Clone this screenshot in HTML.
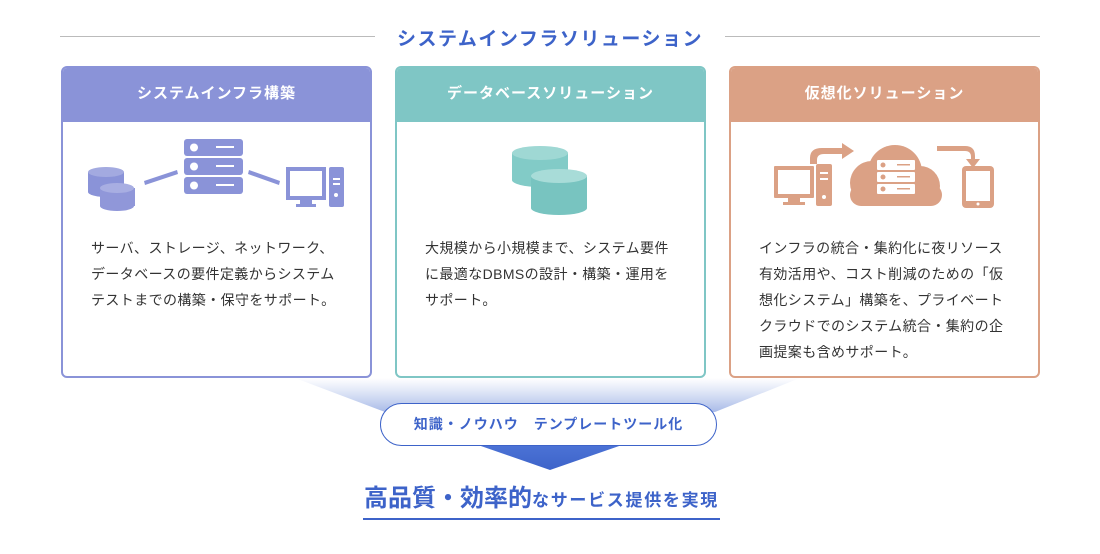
<!DOCTYPE html>
<html><head><meta charset="utf-8"><style>
*{margin:0;padding:0;box-sizing:border-box}
body{width:1100px;height:554px;background:#fff;position:relative;overflow:hidden;font-family:"Liberation Sans","Noto Sans CJK JP",sans-serif;color:#333}
.abs{position:absolute}
.card{position:absolute;top:66px;width:311px;height:312px;border:2px solid;border-radius:6px;background:#fff;overflow:hidden}
.card .h{height:54px;color:#fff;font-weight:bold;font-size:15px;text-align:center;line-height:52px;letter-spacing:1px}
.card p{position:absolute;left:28px;top:167px;font-size:14px;line-height:26px;letter-spacing:0.4px;color:#333;white-space:nowrap}
</style></head><body>
<div class="abs" style="left:60px;top:36px;width:315px;height:1px;background:#bbb"></div>
<div class="abs" style="left:725px;top:36px;width:315px;height:1px;background:#bbb"></div>
<div class="abs" style="left:375px;top:24px;width:350px;text-align:center;font-size:19px;font-weight:600;color:#3d63c9;letter-spacing:1.5px">システムインフラソリューション</div>

<svg class="abs" style="left:0;top:0" width="1100" height="554">
<defs><linearGradient id="g" x1="0" y1="0" x2="0" y2="1"><stop offset="0" stop-color="#fff" stop-opacity="0.9"/><stop offset="1" stop-color="#a9bbe8"/></linearGradient>
<linearGradient id="g2" x1="0" y1="0" x2="0" y2="1"><stop offset="0" stop-color="#4c73d6"/><stop offset="1" stop-color="#3d63c9"/></linearGradient></defs>
<polygon points="295,378 800,378 715,412 385,412" fill="url(#g)"/>
<polygon points="478,445 622,445 550,470" fill="url(#g2)"/>
</svg>

<div class="card" style="left:61px;border-color:#8a93d8"><div class="h" style="background:#8a93d8">システムインフラ構築</div>
<p>サーバ、ストレージ、ネットワーク、<br>データベースの要件定義からシステム<br>テストまでの構築・保守をサポート。</p></div>
<div class="card" style="left:395px;border-color:#7fc6c5"><div class="h" style="background:#7fc6c5">データベースソリューション</div>
<p>大規模から小規模まで、システム要件<br>に最適なDBMSの設計・構築・運用を<br>サポート。</p></div>
<div class="card" style="left:729px;border-color:#dba185"><div class="h" style="background:#dba185">仮想化ソリューション</div>
<p>インフラの統合・集約化に夜リソース<br>有効活用や、コスト削減のための「仮<br>想化システム」構築を、プライベート<br>クラウドでのシステム統合・集約の企<br>画提案も含めサポート。</p></div>

<svg class="abs" style="left:0;top:0" width="1100" height="554">
<g fill="#8a93d8">
<rect x="88" y="172" width="36" height="20"/><ellipse cx="106" cy="172" rx="18" ry="5" fill="#a3aae0"/><ellipse cx="106" cy="192" rx="18" ry="5"/>
<rect x="100" y="188" width="35" height="18" fill="#9097d9"/><ellipse cx="117" cy="188" rx="17" ry="5" fill="#a8aee2"/><ellipse cx="117" cy="206" rx="17" ry="5" fill="#9097d9"/>
<polygon points="144,181 177,170 178,174 145,185"/>
<polygon points="249,170 280,181 279,185 248,174"/>
<rect x="184" y="139" width="59" height="17" rx="3"/><rect x="184" y="158" width="59" height="17" rx="3"/><rect x="184" y="177" width="59" height="17" rx="3"/>
<rect x="286" y="167" width="40" height="33"/><rect x="300" y="200" width="12" height="4"/><rect x="296" y="204" width="20" height="3"/>
<rect x="329" y="167" width="15" height="40" rx="2"/>
</g>
<g fill="#fff"><circle cx="194" cy="147.5" r="4"/><circle cx="194" cy="166.5" r="4"/><circle cx="194" cy="185.5" r="4"/>
<rect x="216" y="146" width="18" height="2"/><rect x="216" y="165" width="18" height="2"/><rect x="216" y="184" width="18" height="2"/>
<rect x="290" y="171" width="32" height="25"/><rect x="333" y="178" width="7" height="2"/><rect x="333" y="183" width="7" height="2"/><circle cx="336" cy="195" r="2"/></g>
<g>
<rect x="512" y="153" width="56" height="27" fill="#82cbc7"/><ellipse cx="540" cy="153" rx="28" ry="7" fill="#9fd8d4"/><ellipse cx="540" cy="180" rx="28" ry="7" fill="#82cbc7"/>
<rect x="531" y="176" width="56" height="32" fill="#78c4c0"/><ellipse cx="559" cy="176" rx="28" ry="7" fill="#a8dcd8"/><ellipse cx="559" cy="208" rx="28" ry="7" fill="#78c4c0"/>
</g>
<g fill="#dba185">
<rect x="774" y="166" width="40" height="32" rx="1"/><rect x="788" y="198" width="12" height="4"/><rect x="783" y="202" width="22" height="3"/>
<rect x="816" y="164" width="16" height="42" rx="2"/>
<path d="M810 164 v-6 q0 -10 12 -10 h20 v-5 l12 8 l-12 8 v-5 h-18 q-7 0 -7 6 v4z"/>
<path d="M937 146 h28 q10 0 10 10 v3 h5 l-7 9 l-7 -9 h5 v-2 q0 -6 -6 -6 h-28z"/>
<rect x="962" y="166" width="32" height="42" rx="4"/>
<circle cx="872" cy="183" r="22"/><circle cx="895" cy="172" r="27"/><circle cx="920" cy="186" r="20"/>
<rect x="850" y="184" width="92" height="22" rx="11"/>
</g>
<g fill="#fff"><rect x="778" y="170" width="32" height="24"/><rect x="820" y="172" width="8" height="2"/><rect x="820" y="178" width="8" height="2"/><circle cx="824" cy="197" r="2"/>
<rect x="966" y="171" width="24" height="30"/><circle cx="978" cy="204" r="1.5"/>
<rect x="877" y="160" width="38" height="10" rx="1"/><rect x="877" y="172" width="38" height="10" rx="1"/><rect x="877" y="184" width="38" height="10" rx="1"/></g>
<g fill="#dba185"><circle cx="883" cy="165" r="2.5"/><circle cx="883" cy="177" r="2.5"/><circle cx="883" cy="189" r="2.5"/>
<rect x="897" y="164" width="13" height="1.5"/><rect x="897" y="176" width="13" height="1.5"/><rect x="897" y="188" width="13" height="1.5"/></g>
</svg>

<div class="abs" style="left:380px;top:403px;width:337px;height:43px;border:1.5px solid #3d63c9;border-radius:22px;background:#fff;text-align:center;line-height:40px;font-size:14px;font-weight:bold;color:#3d63c9;letter-spacing:1px">知識・ノウハウ　テンプレートツール化</div>

<div class="abs" style="left:353px;top:482px;width:377px;text-align:center;color:#3d63c9;font-weight:bold;white-space:nowrap;line-height:34px"><span style="font-size:24px">高品質・効率的</span><span style="font-size:17px;letter-spacing:1.7px">なサービス提供を実現</span></div>
<div class="abs" style="left:363px;top:518px;width:357px;height:1.5px;background:#3d63c9"></div>
</body></html>
